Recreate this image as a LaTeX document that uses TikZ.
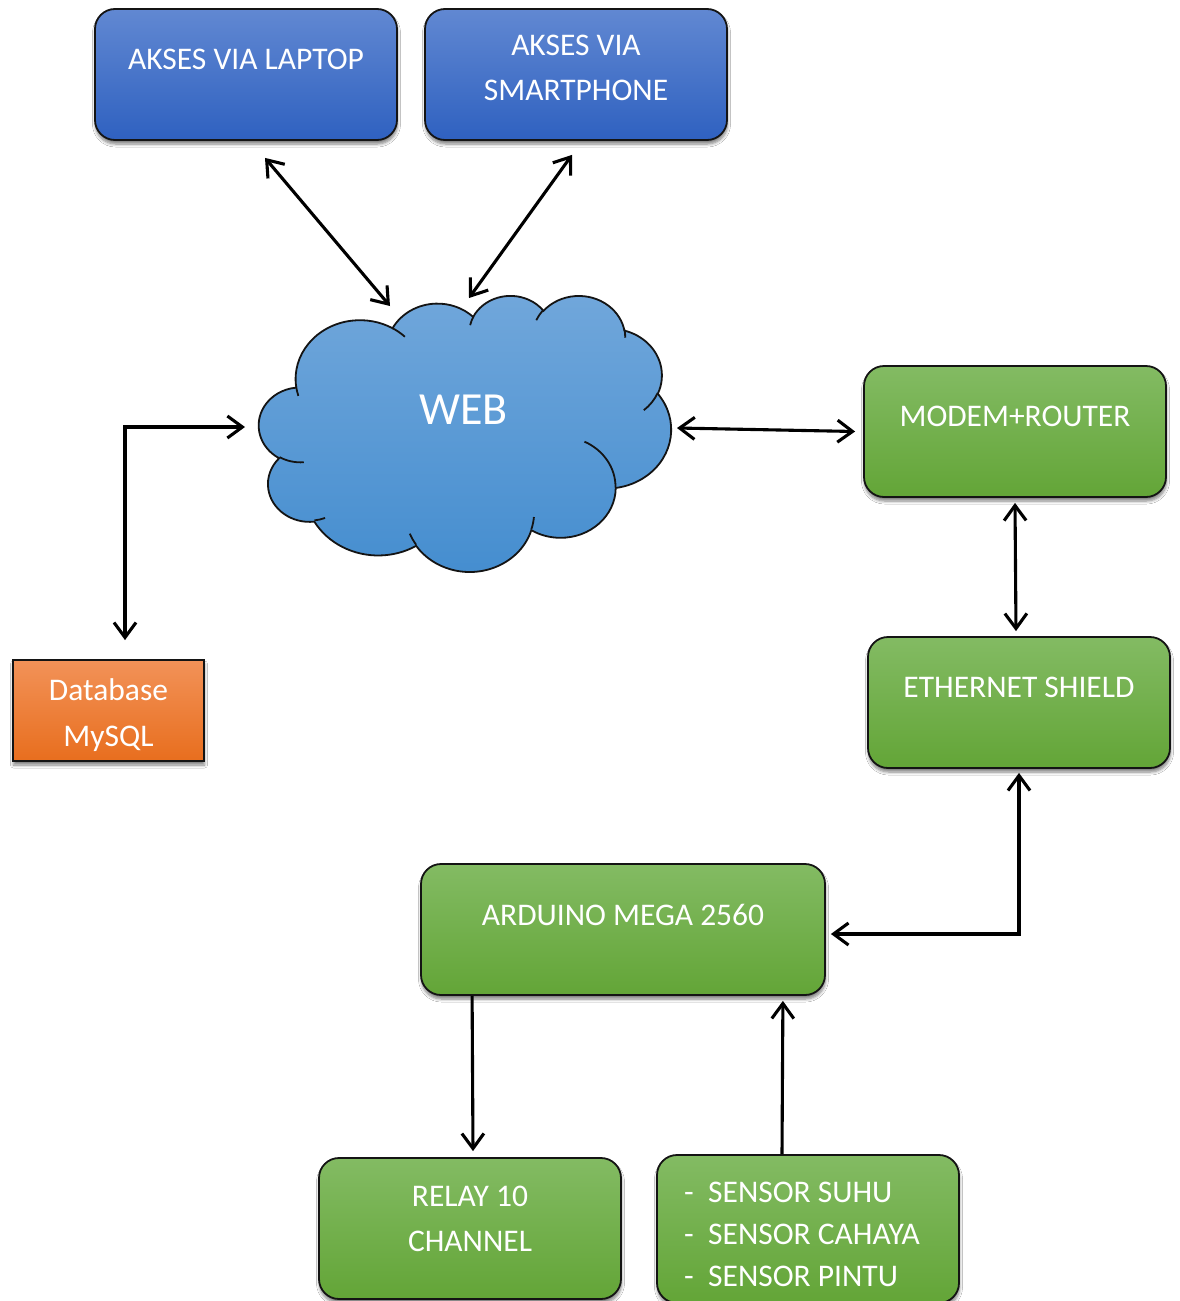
\documentclass[tikz,border=0pt]{standalone}
\usepackage{fontspec}
\setmainfont{Carlito}
\usetikzlibrary{arrows.meta,calc,shadows.blur}
\definecolor{blueTop}{RGB}{97,136,210}
\definecolor{blueBot}{RGB}{47,97,192}
\definecolor{greenTop}{RGB}{131,187,99}
\definecolor{greenBot}{RGB}{99,165,55}
\definecolor{orangeTop}{RGB}{242,146,88}
\definecolor{orangeBot}{RGB}{232,110,30}
\definecolor{cloudTop}{RGB}{113,167,219}
\definecolor{cloudBot}{RGB}{68,141,207}
\definecolor{edge}{RGB}{20,20,20}
% visual (OOXML) angle -> parametric angle for an elliptic arc
\newcommand\cloudang[5]{%
  \pgfmathparse{atan2(#2*sin(#4),#3*cos(#4))}\let\cTmpA\pgfmathresult
  \pgfmathparse{atan2(#2*sin(#4+#5),#3*cos(#4+#5))}\let\cTmpB\pgfmathresult
  \pgfmathparse{\cTmpB-\cTmpA}%
  \pgfmathparse{\pgfmathresult<0?\pgfmathresult+360:\pgfmathresult}%
  \expandafter\xdef\csname cS#1\endcsname{\cTmpA}%
  \expandafter\xdef\csname cD#1\endcsname{\pgfmathresult}%
}
\cloudang{a}{67.53}{91.90}{-190.48748}{123.78053}
\cloudang{b}{53.33}{72.67}{-144.10238}{89.94523}
\cloudang{c}{43.65}{59.45}{-145.80792}{99.72302}
\cloudang{d}{48.57}{65.95}{-130.98607}{117.24173}
\cloudang{e}{53.33}{72.73}{-78.70888}{109.02692}
\cloudang{f}{67.75}{92.20}{-46.26725}{130.26900}
\cloudang{g}{57.85}{78.67}{0.62502}{114.03333}
\cloudang{h}{67.52}{92.15}{22.45160}{115.17255}
\cloudang{i}{77.20}{105.43}{66.24263}{75.71102}
\cloudang{j}{43.60}{59.18}{-274.94208}{146.73557}
\cloudang{k}{43.45}{59.45}{-246.82850}{152.51885}
\cloudang{l}{43.45}{59.45}{86.74200}{26.42950}
\cloudang{m}{43.60}{59.18}{73.61047}{11.44747}
\cloudang{n}{67.52}{92.15}{137.62415}{14.08110}
\cloudang{o}{67.52}{92.15}{6.45327}{15.99835}
\cloudang{p}{57.85}{78.67}{-70.29235}{70.91737}
\cloudang{q}{53.33}{72.73}{30.31803}{27.75150}
\cloudang{r}{48.57}{65.95}{-13.74433}{14.85375}
\cloudang{s}{48.57}{65.95}{-149.18145}{18.19537}
\cloudang{t}{43.65}{59.45}{-163.49427}{17.68635}
\cloudang{u}{67.53}{91.90}{-66.70695}{12.31935}
\cloudang{v}{67.53}{91.90}{157.65435}{11.85817}

\begin{document}
\begin{tikzpicture}[x=1pt,y=-1pt,
  vtip/.tip={Straight Barb[length=15pt,width=22pt]},
  link/.style={draw=black,line width=3.1pt},
  both/.style={link,vtip-vtip},
  fwd/.style={link,-vtip},
  box/.style={draw=edge,line width=1.8pt,rounded corners=20pt,inner sep=0pt,
    align=center,text=white,font=\fontsize{31.5}{44.5}\selectfont,
    blur shadow={shadow xshift=0.5pt,shadow yshift=-4pt,shadow blur radius=3pt,shadow blur steps=6,shadow opacity=50}},
  bluebox/.style={box,top color=blueTop,bottom color=blueBot},
  greenbox/.style={box,top color=greenTop,bottom color=greenBot},
  dbbox/.style={box,rounded corners=0pt,top color=orangeTop,bottom color=orangeBot},
  cloudline/.style={draw=edge,line width=1.8pt}
]
\useasboundingbox[fill=white] (0,0) rectangle (1179,1301);

% ---- cloud (WEB) ----
\begin{scope}[shift={(259,295)},x=0.953704pt,y=-0.638889pt]
\path[cloudline,top color=cloudTop,bottom color=cloudBot]
  (39.00,143.70)
  arc[start angle=\cSa,delta angle=\cDa,x radius=67.53,y radius=91.90]
  arc[start angle=\cSb,delta angle=\cDb,x radius=53.33,y radius=72.67]
  arc[start angle=\cSc,delta angle=\cDc,x radius=43.65,y radius=59.45]
  arc[start angle=\cSd,delta angle=\cDd,x radius=48.57,y radius=65.95]
  arc[start angle=\cSe,delta angle=\cDe,x radius=53.33,y radius=72.73]
  arc[start angle=\cSf,delta angle=\cDf,x radius=67.75,y radius=92.20]
  arc[start angle=\cSg,delta angle=\cDg,x radius=57.85,y radius=78.67]
  arc[start angle=\cSh,delta angle=\cDh,x radius=67.52,y radius=92.15]
  arc[start angle=\cSi,delta angle=\cDi,x radius=77.20,y radius=105.43]
  arc[start angle=\cSj,delta angle=\cDj,x radius=43.60,y radius=59.18]
  arc[start angle=\cSk,delta angle=\cDk,x radius=43.45,y radius=59.45]
  -- cycle;
\path[cloudline]
  (46.93,261.77) arc[start angle=\cSl,delta angle=\cDl,x radius=43.45,y radius=59.45]
  (69.28,348.99) arc[start angle=\cSm,delta angle=\cDm,x radius=43.60,y radius=59.18]
  (164.78,390.90) arc[start angle=\cSn,delta angle=\cDn,x radius=67.52,y radius=92.15]
  (288.27,347.51) arc[start angle=\cSo,delta angle=\cDo,x radius=67.52,y radius=92.15]
  (341.29,229.54) arc[start angle=\cSp,delta angle=\cDp,x radius=57.85,y radius=78.67]
  (417.98,153.54) arc[start angle=\cSq,delta angle=\cDq,x radius=53.33,y radius=72.73]
  (383.24,54.26) arc[start angle=\cSr,delta angle=\cDr,x radius=48.57,y radius=65.95]
  (290.78,39.52) arc[start angle=\cSs,delta angle=\cDs,x radius=48.57,y radius=65.95]
  (221.41,47.20) arc[start angle=\cSt,delta angle=\cDt,x radius=43.65,y radius=59.45]
  (140.00,51.92) arc[start angle=\cSu,delta angle=\cDu,x radius=67.53,y radius=91.90]
  (41.27,157.89) arc[start angle=\cSv,delta angle=\cDv,x radius=67.53,y radius=91.90];
\end{scope}
\node[inner sep=0pt,text=white,font=\fontsize{46}{55}\selectfont] (web) at (463.5,409.5) {WEB};
\coordinate (webTL) at (390,306);
\coordinate (webT) at (469,298);
\coordinate (webR) at (677,428);
\coordinate (webL) at (245,427);

% ---- boxes ----
\node[bluebox,minimum width=302pt,text height=60.5pt,text depth=70.5pt] (lap) at (246,74.5) {AKSES VIA LAPTOP};
\node[bluebox,minimum width=302pt,text height=91pt,text depth=40pt] (sp) at (576,74.5) {AKSES VIA\\SMARTPHONE};
\node[greenbox,minimum width=302pt,text height=60pt,text depth=71pt] (mod) at (1015,431.5) {MODEM+ROUTER};
\node[greenbox,minimum width=302pt,text height=60pt,text depth=71pt] (eth) at (1019,702.5) {ETHERNET SHIELD};
\node[greenbox,minimum width=404pt,text height=61pt,text depth=70pt] (ard) at (623,929.5) {ARDUINO MEGA 2560};
\node[greenbox,minimum width=302pt,text height=93pt,text depth=48pt,font=\fontsize{31.5}{45}\selectfont] (rel) at (470,1228.5) {RELAY 10\\CHANNEL};
\node[greenbox,minimum width=302pt,text height=131pt,text depth=17pt,align=left,font=\fontsize{31.5}{42}\selectfont] (sen) at (808,1229)
  {\makebox[24pt][l]{-}SENSOR SUHU\\\makebox[24pt][l]{-}SENSOR CAHAYA\makebox[12pt]{}\\\makebox[24pt][l]{-}SENSOR PINTU};
\node[dbbox,minimum width=191pt,text height=86pt,text depth=15pt,font=\fontsize{31.5}{46}\selectfont] (db) at (108.5,710.5) {Database\\MySQL};

% ---- connectors ----
\draw[both] ($(lap.south)+(19,17)$) -- (webTL);
\draw[both] ($(sp.south)+(-4,14)$) -- (webT);
\draw[both] (webR) -- ($(mod.west)+(-8,0)$);
\draw[both] (webL) -| ($(db.north)+(16.5,-19)$);
\draw[both] ($(mod.south)+(0,5)$) -- ($(eth.north)+(-3,-5)$);
\draw[both] ($(eth.south)+(0,4)$) |- ($(ard.east)+(5,4.5)$);
\draw[fwd] ($(ard.south west)+(52,0)$) -- ($(rel.north)+(3,-6)$);
\draw[fwd] ($(sen.north)+(-26,0)$) -- ($(ard.south east)+(-43,5)$);
\end{tikzpicture}
\end{document}
